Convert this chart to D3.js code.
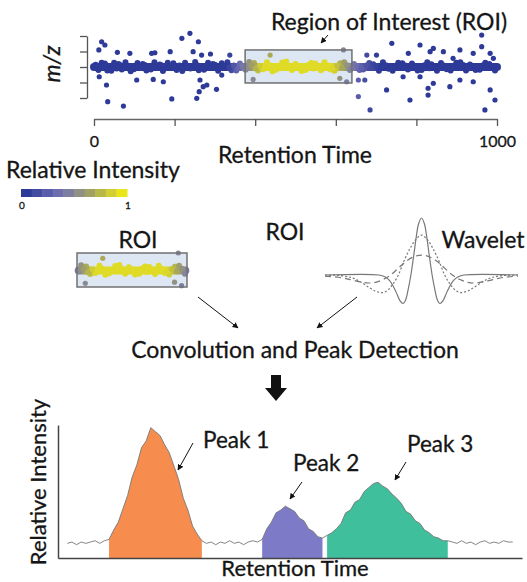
<!DOCTYPE html>
<html>
<head>
<meta charset="utf-8">
<script src="https://cdn.jsdelivr.net/npm/d3@7"></script>
<style>
  body { margin: 0; background: #fff; }
  text { font-family: Lato, "Open Sans", sans-serif; fill: #151515; stroke: #151515; stroke-width: 0.3; }
</style>
</head>
<body>
<script>
// ---- top scatter: retention time vs m/z ----
var rtTicks = [0, 200, 400, 600, 800, 1000];
var mzTicks = [0, 1, 2, 3, 4];
var roiRange = {rt: [375, 640], mz: [0.97, 3.1]};

// intensity profile along the band (rt, relative intensity)
var intensityKnots = [[0, 0], [330, 0], [360, 0.3], [378, 0.5], [395, 0.7], [420, 0.95],
                      [590, 0.95], [612, 0.75], [630, 0.55], [648, 0.35], [675, 0.15], [710, 0], [1000, 0]];

// dots along the dense band (outer edge)
var bandPts = [[4,2.15],[11,1.8],[19,2.27],[27,2.22],[33,1.78],[43,1.76],[50,2.28],[61,2.2],[69,1.84],[78,2.3],
  [91,1.72],[99,1.85],[108,2.26],[121,2.2],[130,1.77],[141,1.84],[150,2.3],[163,2.16],[171,1.74],[183,2.27],
  [197,2.24],[205,1.8],[219,1.74],[226,2.28],[239,1.9],[251,2.32],[260,1.79],[273,1.82],[283,2.27],[295,2.2],
  [308,1.76],[317,2.25],[331,2.3],[341,1.79],[353,1.78],[362,2.22],[376,1.83],[385,2.33],[397,2.26],[407,1.78],
  [419,1.85],[429,2.3],[443,1.73],[452,1.82],[467,2.29],[477,2.35],[491,1.8],[500,2.2],[515,1.75],[525,1.8],
  [539,2.26],[549,2.22],[563,1.79],[572,2.3],[587,1.84],[597,1.76],[611,2.24],[621,2.3],[635,1.8],[645,2.2],
  [659,1.8],[668,1.84],[683,2.26],[693,2.18],[707,1.76],[717,2.3],[731,1.88],[741,1.76],[755,2.28],[765,2.24],
  [779,1.84],[789,2.22],[803,1.78],[813,1.8],[827,2.3],[837,2.18],[851,1.76],[861,2.26],[875,1.86],[885,1.77],
  [899,2.27],[909,2.3],[923,1.78],[933,2.16],[947,1.8],[957,1.83],[971,2.28],[981,2.2],[995,1.78]];

// dots along the dense band (core)
var bandCore = [[7,1.95],[15,2.08],[23,1.98],[31,2.1],[38,1.94],[47,2.05],[56,1.9],[65,2.12],[74,1.97],[84,2.06],
  [95,1.92],[104,2.1],[115,1.96],[126,2.13],[136,1.9],[146,2.04],[157,1.95],[167,2.12],[178,1.92],[190,2.07],
  [201,1.97],[212,2.1],[223,1.9],[233,2.05],[245,1.96],[256,2.12],[267,1.93],[278,2.08],[289,1.95],[300,2.14],
  [312,1.92],[324,2.06],[336,1.97],[347,2.1],[358,1.92],[369,2.05],[381,1.96],[391,2.12],[402,1.9],[413,2.06],
  [424,1.97],[436,2.12],[447,1.92],[459,2.07],[472,1.95],[484,2.1],[496,1.93],[508,2.05],[520,1.97],[532,2.13],
  [544,1.91],[556,2.06],[568,1.96],[580,2.1],[592,1.93],[604,2.08],[616,1.95],[628,2.12],[640,1.92],[652,2.06],
  [664,1.97],[676,2.1],[688,1.93],[700,2.05],[712,1.96],[724,2.12],[736,1.91],[748,2.08],[760,1.95],[772,2.1],
  [784,1.93],[796,2.06],[808,1.97],[820,2.12],[832,1.92],[844,2.05],[856,1.96],[868,2.1],[880,1.93],[892,2.08],
  [904,1.95],[916,2.13],[928,1.91],[940,2.06],[952,1.97],[964,2.1],[976,1.93],[988,2.06]];

// scattered dots off the band
var outliers = [[19,3.63],[27,3.42],[12,3.1],[58,2.95],[89,2.88],[143,2.88],[151,2.92],[189,2.99],[218,3.85],
  [238,4.17],[259,3.63],[246,2.99],[267,2.77],[289,2.84],[337,2.77],
  [13,1.37],[31,0.84],[106,1.16],[147,1.2],[172,1.05],[263,1.16],[271,0.73],[261,0.41],[280,0.84],[304,0.56],
  [317,1.48],[255,-0.02],[193,-0.06],[34,-0.24],[73,-0.52],
  [437,2.77],[395,1.2],[619,3.1],[610,1.27],[627,1.05],
  [677,2.77],[701,2.77],[739,3.53],[780,2.88],[809,3.42],[834,2.99],[842,3.2],[867,2.99],[891,2.56],[908,3.1],
  [941,2.88],[962,4.06],[962,3.31],[983,2.88],[991,2.56],
  [656,1.16],[672,1.16],[656,0.09],[685,-0.77],[726,0.52],[767,1.37],[784,-0.13],[809,1.37],[829,0.63],[829,0.19],
  [842,0.95],[883,0.73],[908,1.16],[941,1.05],[983,0.52],[995,-0.13],[970,-0.77]];

// colour bar
var barSteps = [0, 0.11, 0.22, 0.33, 0.44, 0.56, 0.67, 0.78, 0.89, 1];

// ---- wavelets (half shapes, mirrored) ----
var waveNarrow = [[0,1],[3,0.9],[5.5,0.66],[8,0.35],[11,0],[14,-0.27],[16.5,-0.44],[19,-0.5],[22,-0.46],
  [25,-0.35],[28,-0.24],[33,-0.1],[38,-0.03],[44,0],[100,0]];
var waveMid = [[0,0.7],[6,0.62],[12,0.46],[18,0.25],[24,0],[30,-0.17],[36,-0.28],[41,-0.31],[48,-0.28],
  [56,-0.2],[64,-0.11],[72,-0.05],[84,-0.01],[100,0]];
var waveWide = [[0,0.35],[8,0.32],[16,0.24],[24,0.12],[32,0],[40,-0.08],[48,-0.13],[55,-0.14],[64,-0.12],
  [74,-0.08],[86,-0.04],[100,-0.02]];

// ---- bottom chromatogram ----
var sigStart = 2;
var signal = [.11,.12,.10,.12,.11,.12,.13,.11,.13,
  .14,.21,.27,.37,.47,.61,.70,.83,.88,.98,.95,.92,.85,.79,.69,.59,.45,.36,.24,.18,.13,
  .11,.12,.10,.12,.11,.13,.11,.12,.10,.12,.13,.12,
  .14,.22,.27,.34,.36,.39,.37,.35,.30,.28,.22,.20,.16,.15,
  .17,.19,.22,.26,.34,.36,.42,.44,.50,.53,.56,.57,.54,.52,.48,.45,.41,.35,.33,.28,.26,.21,.19,.16,.15,.13,.13,
  .12,.11,.13,.11,.12,.10,.12,.13,.11,.12,.11,.13,.12,.12];
var peakRanges = [[11, 31], [44, 57], [58, 84]];
var peakNames = ["Peak 1", "Peak 2", "Peak 3"];
var peakColors = ["#f68d4f", "#7d7bc8", "#3fbf9b"];

var W = 527, H = 582, FS = 23;
var svg = d3.select("body").append("svg").attr("width", W).attr("height", H);
var defs = svg.append("defs");

defs.append("marker")
  .attr("id", "head")
  .attr("viewBox", "0 0 10 10")
  .attr("refX", 9).attr("refY", 5)
  .attr("markerWidth", 6).attr("markerHeight", 6)
  .attr("markerUnits", "userSpaceOnUse")
  .attr("orient", "auto")
  .append("path").attr("d", "M0,0L10,5L0,10z").attr("fill", "#111");

var color = d3.scaleLinear()
  .domain([0, 0.3, 0.5, 0.7, 1])
  .range(["#2e3a98", "#6a6ab2", "#86869a", "#a6a65a", "#eae61c"]);
var intensityAt = d3.scaleLinear()
  .domain(intensityKnots.map(function(d) { return d[0]; }))
  .range(intensityKnots.map(function(d) { return d[1]; }))
  .clamp(true);

// top scales
var x = d3.scaleLinear().domain([0, 1000]).range([94, 497]);
var y = d3.scaleLinear().domain([0, 4]).range([98, 36]);

function bandGradient(id, xs) {
  var g = defs.append("linearGradient")
    .attr("id", id)
    .attr("gradientUnits", "userSpaceOnUse")
    .attr("x1", xs(0)).attr("x2", xs(1000))
    .attr("y1", 0).attr("y2", 0);
  g.selectAll("stop").data(intensityKnots).enter().append("stop")
    .attr("offset", function(d) { return d[0] / 1000; })
    .attr("stop-color", function(d) { return color(d[1]); });
}

function drawScatter(g, xs, ys, rtLo, rtHi, mzLo, mzHi, gid) {
  bandGradient(gid, xs);
  g.append("line")
    .attr("x1", xs(rtLo)).attr("x2", xs(rtHi))
    .attr("y1", ys(2)).attr("y2", ys(2))
    .attr("stroke", "url(#" + gid + ")")
    .attr("stroke-width", 8)
    .attr("stroke-linecap", "round");
  var inside = function(d) { return d[0] >= rtLo && d[0] <= rtHi && d[1] >= mzLo && d[1] <= mzHi; };
  g.selectAll(".band").data(bandPts.concat(bandCore).filter(inside)).enter().append("circle")
    .attr("cx", function(d) { return xs(d[0]); })
    .attr("cy", function(d) { return ys(d[1]); })
    .attr("r", 3)
    .attr("fill", function(d) { return color(intensityAt(d[0])); });
  g.selectAll(".out").data(outliers.filter(inside)).enter().append("circle")
    .attr("cx", function(d) { return xs(d[0]); })
    .attr("cy", function(d) { return ys(d[1]); })
    .attr("r", 2.6)
    .attr("fill", function(d) { return color(intensityAt(d[0]) * 0.75); });
}

// ROI box fill
var gTop = svg.append("g");
gTop.append("rect")
  .attr("x", x(roiRange.rt[0])).attr("y", y(roiRange.mz[1]))
  .attr("width", x(roiRange.rt[1]) - x(roiRange.rt[0]))
  .attr("height", y(roiRange.mz[0]) - y(roiRange.mz[1]))
  .attr("fill", "#dde6f3");
drawScatter(gTop, x, y, 0, 1000, -1, 5, "gBand");
gTop.append("rect")
  .attr("x", x(roiRange.rt[0])).attr("y", y(roiRange.mz[1]))
  .attr("width", x(roiRange.rt[1]) - x(roiRange.rt[0]))
  .attr("height", y(roiRange.mz[0]) - y(roiRange.mz[1]))
  .attr("fill", "none").attr("stroke", "#707070").attr("stroke-width", 1.5);

var xAxis = d3.axisBottom(x).tickValues(rtTicks).tickSize(7).tickSizeOuter(0)
  .tickFormat(function(d) { return (d === 0 || d === 1000) ? d : ""; });
var gx = svg.append("g").attr("transform", "translate(0,119)").call(xAxis);
gx.select(".domain").attr("stroke", "#666").attr("stroke-width", 1.5);
gx.selectAll(".tick line").attr("stroke", "#555").attr("stroke-width", 1.3);
gx.selectAll(".tick text").attr("font-size", 16).attr("dy", "1.15em").attr("font-family", "Lato");

var yAxis = d3.axisLeft(y).tickValues(mzTicks).tickSize(7).tickSizeOuter(0).tickFormat("");
var gy = svg.append("g").attr("transform", "translate(87,0)").call(yAxis);
gy.select(".domain").attr("stroke", "#555").attr("stroke-width", 1.3);
gy.selectAll(".tick line").attr("stroke", "#555").attr("stroke-width", 1.3);

svg.append("text").attr("x", 389).attr("y", 30).attr("text-anchor", "middle")
  .attr("font-size", FS).text("Region of Interest (ROI)");
svg.append("line").attr("x1", 328).attr("y1", 35).attr("x2", 321).attr("y2", 43)
  .attr("stroke", "#111").attr("stroke-width", 1).attr("marker-end", "url(#head)");
svg.append("text").attr("transform", "translate(60,64) rotate(-90)").attr("text-anchor", "middle")
  .attr("font-size", FS).attr("font-style", "italic").text("m/z");
svg.append("text").attr("x", 295).attr("y", 163).attr("text-anchor", "middle")
  .attr("font-size", FS).text("Retention Time");

// colour legend
svg.append("text").attr("x", 6).attr("y", 178).attr("font-size", FS).text("Relative Intensity");
var cb = d3.scaleLinear().domain([0, 1]).range([21, 127]);
var bw = (cb(1) - cb(0)) / barSteps.length;
svg.append("g").selectAll("rect").data(barSteps).enter().append("rect")
  .attr("x", function(d, i) { return cb(0) + i * bw; })
  .attr("y", 189).attr("width", bw + 0.5).attr("height", 8)
  .attr("fill", function(d) { return color(d); });
svg.append("g").selectAll("text").data([0, 1]).enter().append("text")
  .attr("x", function(d) { return cb(d) + 1; }).attr("y", 209)
  .attr("text-anchor", "middle").attr("font-size", 10).attr("stroke-width", 0).text(function(d) { return d; });

// ---- middle: ROI copy, wavelet, convolution ----
var xs = d3.scaleLinear().domain(roiRange.rt).range([77, 187]);
var ys = d3.scaleLinear().domain(roiRange.mz).range([287, 253]);
var mid = svg.append("g");
mid.append("rect").attr("x", xs(roiRange.rt[0])).attr("y", ys(roiRange.mz[1]))
  .attr("width", xs(roiRange.rt[1]) - xs(roiRange.rt[0]))
  .attr("height", ys(roiRange.mz[0]) - ys(roiRange.mz[1]))
  .attr("fill", "#dde6f3");
drawScatter(mid, xs, ys, roiRange.rt[0] + 4, roiRange.rt[1] - 4, roiRange.mz[0], roiRange.mz[1], "gSmall");
mid.append("rect").attr("x", xs(roiRange.rt[0])).attr("y", ys(roiRange.mz[1]))
  .attr("width", xs(roiRange.rt[1]) - xs(roiRange.rt[0]))
  .attr("height", ys(roiRange.mz[0]) - ys(roiRange.mz[1]))
  .attr("fill", "none").attr("stroke", "#707070").attr("stroke-width", 1.5);

svg.append("text").attr("x", 138).attr("y", 248).attr("text-anchor", "middle").attr("font-size", FS).text("ROI");
svg.append("text").attr("x", 285).attr("y", 240).attr("text-anchor", "middle").attr("font-size", FS).text("ROI");
svg.append("text").attr("x", 483).attr("y", 248).attr("text-anchor", "middle").attr("font-size", FS).text("Wavelet");

var xw = d3.scaleLinear().domain([-100, 100]).range([325, 518]);
var yw = d3.scaleLinear().domain([0, 1]).range([275, 218]);
var waveLine = d3.line()
  .x(function(d) { return xw(d[0]); })
  .y(function(d) { return yw(d[1]); })
  .curve(d3.curveCatmullRom);
function mirror(half) {
  return half.slice(1).map(function(d) { return [-d[0], d[1]]; }).reverse().concat(half);
}
[[waveWide, "6,4"], [waveMid, "2,2"], [waveNarrow, null]].forEach(function(w) {
  svg.append("path").attr("d", waveLine(mirror(w[0])))
    .attr("fill", "none").attr("stroke", "#777").attr("stroke-width", 1.2)
    .attr("stroke-dasharray", w[1]);
});

svg.append("line").attr("x1", 198).attr("y1", 297).attr("x2", 238).attr("y2", 328)
  .attr("stroke", "#111").attr("stroke-width", 1).attr("marker-end", "url(#head)");
svg.append("line").attr("x1", 357).attr("y1", 297).attr("x2", 317).attr("y2", 328)
  .attr("stroke", "#111").attr("stroke-width", 1).attr("marker-end", "url(#head)");
svg.append("text").attr("x", 295).attr("y", 358).attr("text-anchor", "middle")
  .attr("font-size", FS).text("Convolution and Peak Detection");

svg.append("path")
  .attr("d", "M271,375L281,375L281,388L287,388L276,401L265,388L271,388Z")
  .attr("fill", "#111");

// ---- bottom chromatogram ----
var xb = d3.scaleLinear().domain([0, 100]).range([58, 522]);
var yb = d3.scaleLinear().domain([0, 1]).range([558, 425]);
var sig = signal.map(function(v, i) { return [sigStart + i, v]; });

var area = d3.area()
  .x(function(d) { return xb(d[0]); })
  .y0(yb(0))
  .y1(function(d) { return yb(d[1]); });
peakRanges.forEach(function(r, i) {
  svg.append("path")
    .attr("d", area(sig.filter(function(d) { return d[0] >= r[0] && d[0] <= r[1]; })))
    .attr("fill", peakColors[i]);
});
svg.append("path")
  .attr("d", d3.line().x(function(d) { return xb(d[0]); }).y(function(d) { return yb(d[1]); })(sig))
  .attr("fill", "none").attr("stroke", "#777").attr("stroke-width", 0.9);

var gbx = svg.append("g").attr("transform", "translate(0,558)")
  .call(d3.axisBottom(xb).tickValues([]).tickSizeOuter(0));
var gby = svg.append("g").attr("transform", "translate(58,0)")
  .call(d3.axisLeft(yb).tickValues([]).tickSizeOuter(0));
[gbx, gby].forEach(function(g) {
  g.select(".domain").attr("stroke", "#444").attr("stroke-width", 1.5);
});

svg.append("text").attr("x", 295).attr("y", 576).attr("text-anchor", "middle")
  .attr("font-size", FS - 1).text("Retention Time");
svg.append("text").attr("transform", "translate(46,482) rotate(-90)").attr("text-anchor", "middle")
  .attr("font-size", FS - 1).text("Relative Intensity");

var labelAt = [[203, 448, 193, 443, 178, 470], [293, 471, 302, 482, 290, 499], [407, 452, 406, 462, 395, 480]];
peakNames.forEach(function(n, i) {
  var p = labelAt[i];
  svg.append("text").attr("x", p[0]).attr("y", p[1]).attr("font-size", FS - 0.5).text(n);
  svg.append("line").attr("x1", p[2]).attr("y1", p[3]).attr("x2", p[4]).attr("y2", p[5])
    .attr("stroke", "#111").attr("stroke-width", 1).attr("marker-end", "url(#head)");
});
</script>
</body>
</html>
